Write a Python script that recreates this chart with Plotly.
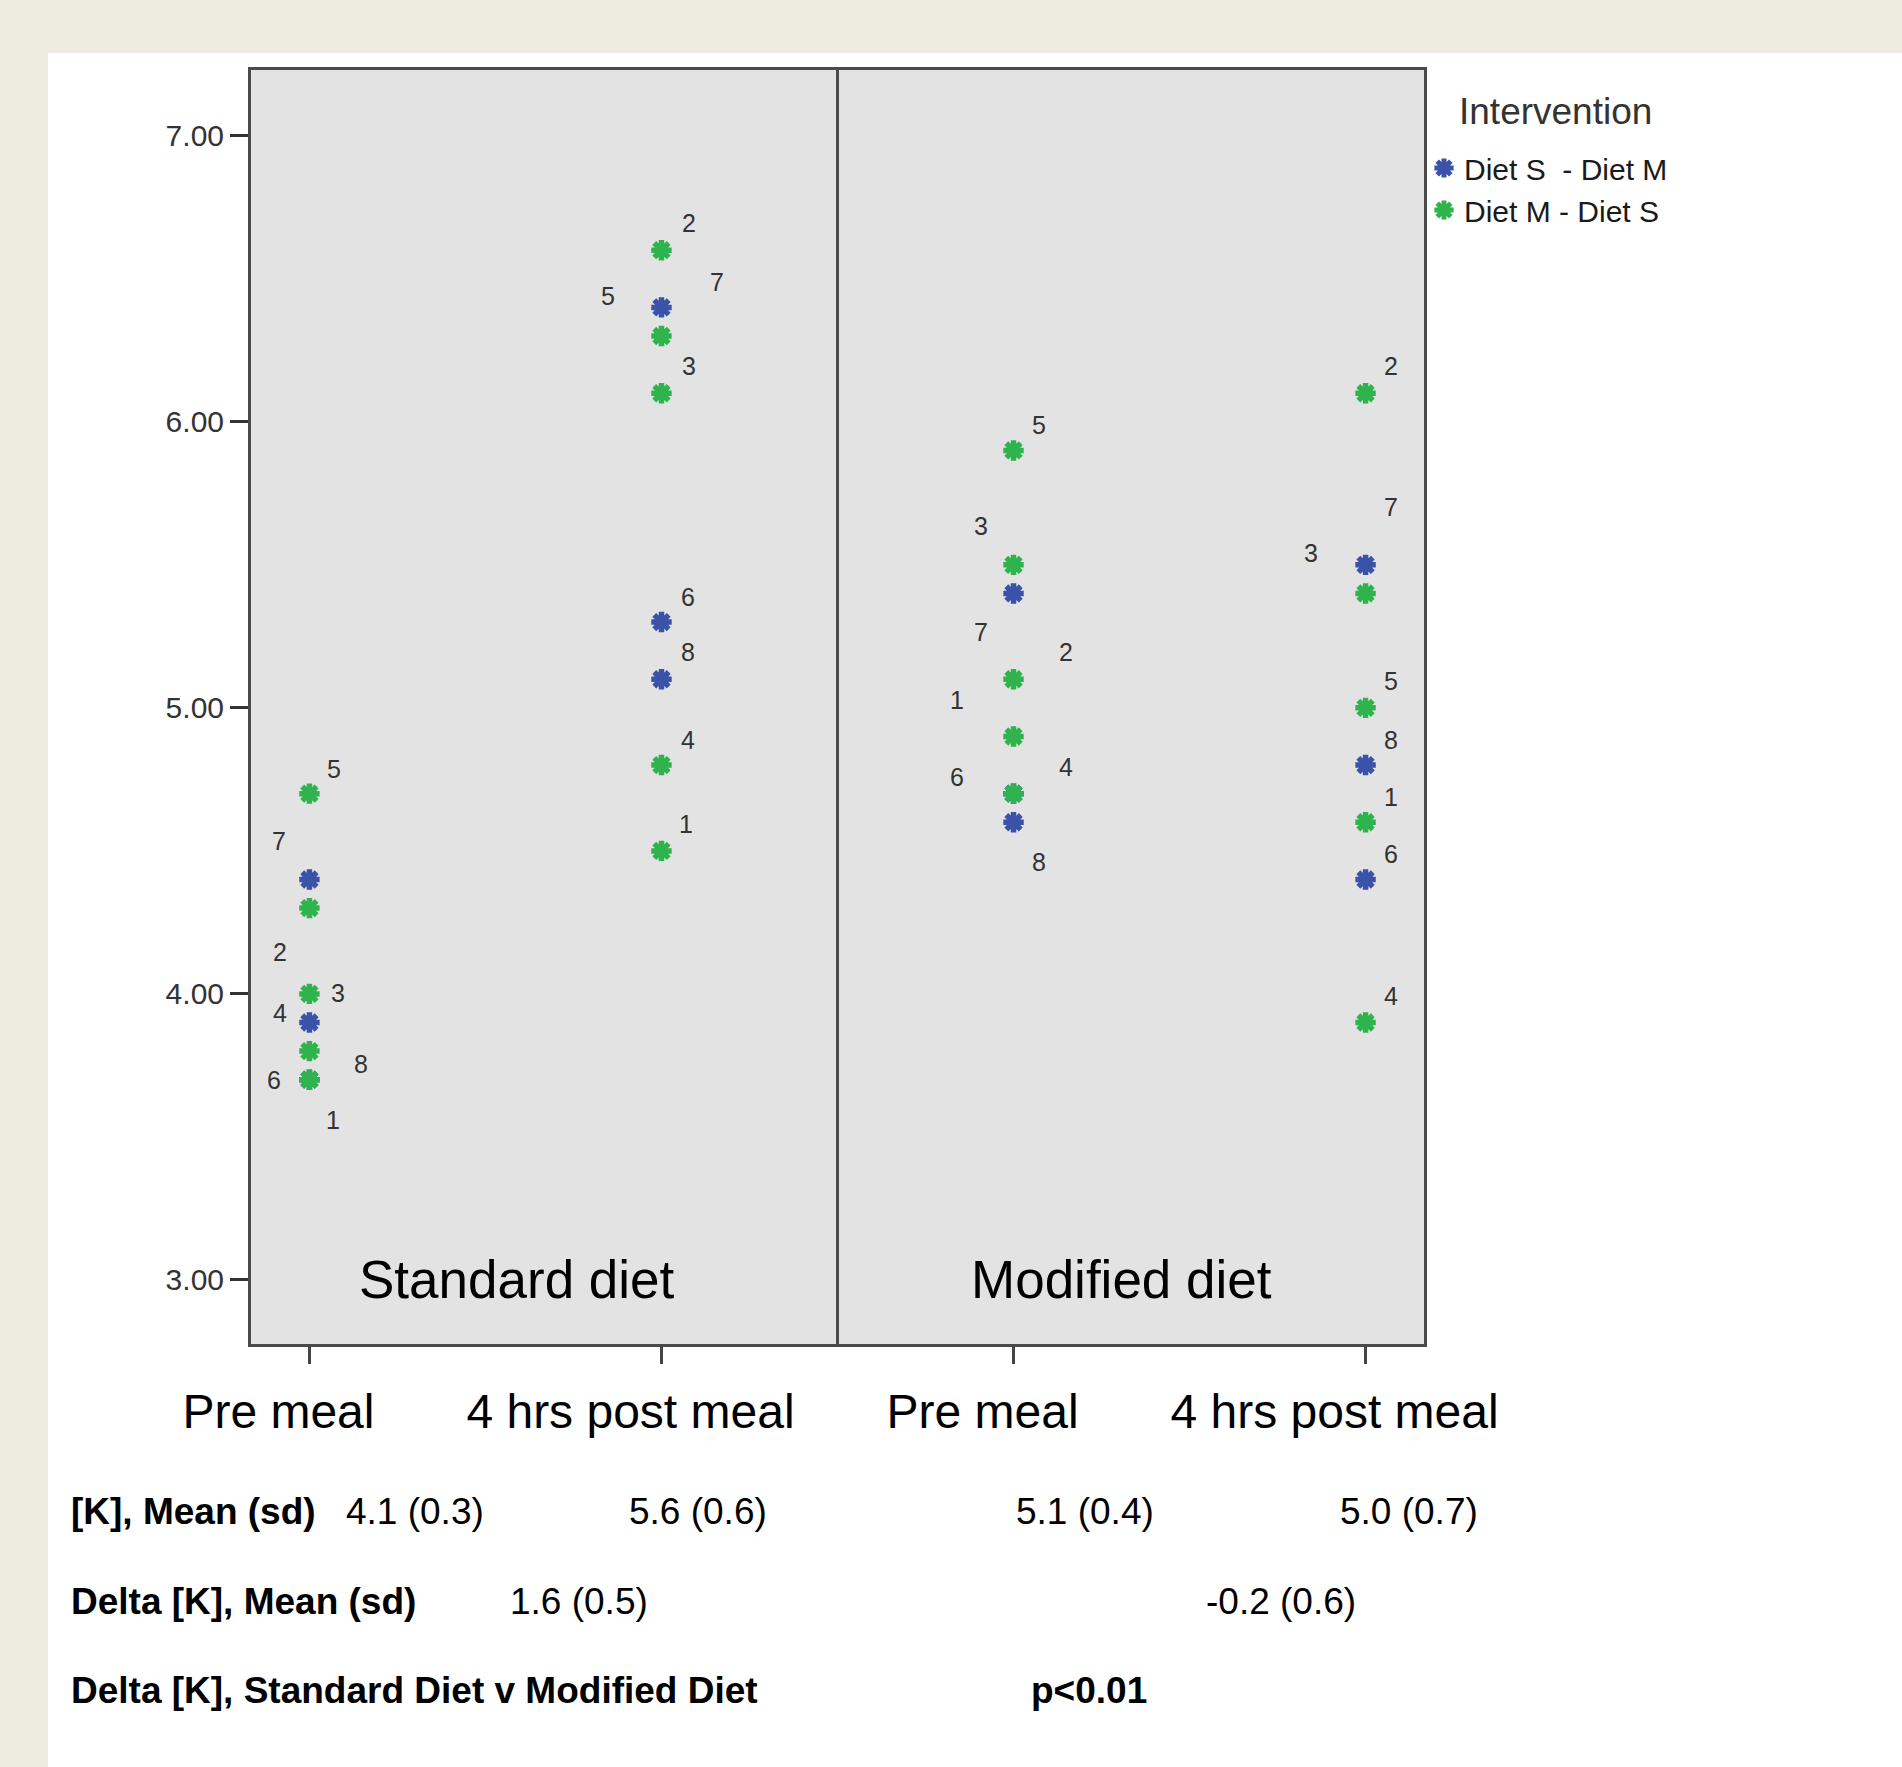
import plotly.graph_objects as go

# ---------------- data ----------------
subject_ids = [1, 2, 3, 4, 5, 6, 7, 8]
subject_groups = ["Diet M - Diet S", "Diet M - Diet S", "Diet M - Diet S", "Diet M - Diet S",
                  "Diet M - Diet S", "Diet S  - Diet M", "Diet S  - Diet M", "Diet S  - Diet M"]
group_names = ["Diet S  - Diet M", "Diet M - Diet S"]
legend_title = "Intervention"

time_labels = ["Pre meal", "4 hrs post meal", "Pre meal", "4 hrs post meal"]
diet_labels = ["Standard diet", "Modified diet"]

std_pre = [3.7, 4.3, 4.0, 3.8, 4.7, 3.7, 4.4, 3.9]
std_post = [4.5, 6.6, 6.1, 4.8, 6.3, 5.3, 6.4, 5.1]
mod_pre = [4.9, 5.1, 5.5, 4.7, 5.9, 4.7, 5.4, 4.6]
mod_post = [4.6, 6.1, 5.4, 3.9, 5.0, 4.4, 5.5, 4.8]

y_ticks = [3, 4, 5, 6, 7]

k_means = [4.1, 5.6, 5.1, 5.0]
k_sds = [0.3, 0.6, 0.4, 0.7]
delta_means = [1.6, -0.2]
delta_sds = [0.5, 0.6]
p_value_text = "p<0.01"

# ---------------- styles ----------------
W, H = 1902, 1767
L, R, T, B = 251, 1424, 70, 1344
FONT = "Arial, Liberation Sans, sans-serif"
colors = {"Diet S  - Diet M": "#3a52a8", "Diet M - Diet S": "#2fb34c"}

# label offsets (px, screen-down positive) per panel, per subject
label_offsets = [
    [(24, 40), (-29, 44), (29, -1), (-29, -38), (25, -25), (-35, 0), (-30, -38), (52, 41)],
    [(25, -27), (28, -27), (28, -27), (27, -25), (-53, -40), (27, -25), (56, -25), (27, -27)],
    [(-57, -36), (52, -27), (-33, -39), (52, -27), (25, -25), (-57, -17), (-33, 39), (25, 40)],
    [(25, -25), (25, -27), (-55, -40), (25, -27), (25, -27), (25, -25), (25, -58), (25, -25)],
]


def px_x(px):
    return (px - L) / (R - L)


def px_y(py):
    return (B - py) / (B - T)


panels = [std_pre, std_post, mod_pre, mod_post]

fig = go.Figure()

for g in group_names:
    xs, ys = [], []
    for p, vals in enumerate(panels):
        for i, v in enumerate(vals):
            if subject_groups[i] == g:
                xs.append(p)
                ys.append(v)
    fig.add_trace(go.Scatter(
        x=xs, y=ys, mode="markers", name=g,
        marker=dict(symbol="asterisk-open", size=17, color=colors[g],
                    line=dict(width=5.5, color=colors[g])),
        hoverinfo="x+y",
    ))

annotations = []
# point labels
for p, vals in enumerate(panels):
    for i, v in enumerate(vals):
        dx, dy = label_offsets[p][i]
        annotations.append(dict(
            x=p, y=v, xref="x", yref="y", text=str(subject_ids[i]), showarrow=False,
            xshift=dx, yshift=-dy, font=dict(family=FONT, size=25, color="#333333"),
        ))

# diet labels inside panels
for j, lab in enumerate(diet_labels):
    annotations.append(dict(
        x=[0.59, 2.306][j], y=3.0, xref="x", yref="y", text=lab, showarrow=False,
        font=dict(family=FONT, size=53, color="#000000"),
    ))

# legend title
annotations.append(dict(x=px_x(1457), y=px_y(111), xref="paper", yref="paper", text=legend_title,
                        showarrow=False, xanchor="left", yanchor="middle",
                        font=dict(family=FONT, size=37, color="#333333")))

# table under the chart
row_y = [1511, 1601, 1690]
annotations.append(dict(x=px_x(69), y=px_y(row_y[0]), xref="paper", yref="paper",
                        text="<b>[K], Mean (sd)</b>", showarrow=False, xanchor="left", yanchor="middle",
                        font=dict(family=FONT, size=37, color="#000")))
for m, s, px in zip(k_means, k_sds, [344, 627, 1014, 1338]):
    annotations.append(dict(x=px_x(px), y=px_y(row_y[0]), xref="paper", yref="paper",
                            text=f"{m:.1f} ({s:.1f})", showarrow=False, xanchor="left", yanchor="middle",
                            font=dict(family=FONT, size=37, color="#000")))
annotations.append(dict(x=px_x(69), y=px_y(row_y[1]), xref="paper", yref="paper",
                        text="<b>Delta [K], Mean (sd)</b>", showarrow=False, xanchor="left", yanchor="middle",
                        font=dict(family=FONT, size=37, color="#000")))
for m, s, px in zip(delta_means, delta_sds, [508, 1204]):
    annotations.append(dict(x=px_x(px), y=px_y(row_y[1]), xref="paper", yref="paper",
                            text=f"{m:.1f} ({s:.1f})", showarrow=False, xanchor="left", yanchor="middle",
                            font=dict(family=FONT, size=37, color="#000")))
annotations.append(dict(x=px_x(69), y=px_y(row_y[2]), xref="paper", yref="paper",
                        text="<b>Delta [K], Standard Diet v Modified Diet</b>", showarrow=False,
                        xanchor="left", yanchor="middle", font=dict(family=FONT, size=37, color="#000")))
annotations.append(dict(x=px_x(1029), y=px_y(row_y[2]), xref="paper", yref="paper",
                        text=f"<b>{p_value_text}</b>", showarrow=False,
                        xanchor="left", yanchor="middle", font=dict(family=FONT, size=37, color="#000")))

shapes = [
    # beige slide background strips
    dict(type="rect", xref="paper", yref="paper", x0=px_x(0), x1=px_x(W), y0=px_y(53), y1=px_y(0),
         fillcolor="#eeebe0", line=dict(width=0), layer="below"),
    dict(type="rect", xref="paper", yref="paper", x0=px_x(0), x1=px_x(48), y0=px_y(H), y1=px_y(0),
         fillcolor="#eeebe0", line=dict(width=0), layer="below"),
    # panel divider
    dict(type="line", xref="x", yref="paper", x0=1.5, x1=1.5, y0=0, y1=1,
         line=dict(color="#4a4a4a", width=3), layer="above"),
]

fig.update_layout(
    width=W, height=H,
    margin=dict(l=L, r=W - R, t=T, b=H - B, pad=0),
    paper_bgcolor="#ffffff",
    plot_bgcolor="#e3e3e3",
    font=dict(family=FONT, color="#333333"),
    showlegend=True,
    legend=dict(
        x=1.0, y=px_y(142), xanchor="left", yanchor="top",
        font=dict(family=FONT, size=30, color="#1a1a1a"),
        bgcolor="rgba(0,0,0,0)", tracegroupgap=0, itemwidth=30,
    ),
    xaxis=dict(
        range=[-0.166, 3.166], tickmode="array", tickvals=[0, 1, 2, 3], ticktext=time_labels,
        ticks="outside", ticklen=17, tickwidth=3, tickcolor="#444444",
        tickfont=dict(family=FONT, size=48, color="#000000"),
        ticklabelshift=-31, ticklabelstandoff=6,
        showline=True, linecolor="#4a4a4a", linewidth=3, mirror=True,
        showgrid=False, zeroline=False, fixedrange=True,
    ),
    yaxis=dict(
        range=[2.776, 7.23], tickmode="array", tickvals=y_ticks,
        ticktext=[f"{v:.2f}" for v in y_ticks],
        ticks="outside", ticklen=18, tickwidth=3, tickcolor="#333333",
        tickfont=dict(family=FONT, size=30, color="#333333"),
        showline=True, linecolor="#4a4a4a", linewidth=3, mirror=True,
        showgrid=False, zeroline=False, fixedrange=True,
    ),
    annotations=annotations,
    shapes=shapes,
)

fig.write_html("out.html", config={"displayModeBar": False},
               post_script="document.body.style.margin='0';document.body.style.overflow='hidden';")
